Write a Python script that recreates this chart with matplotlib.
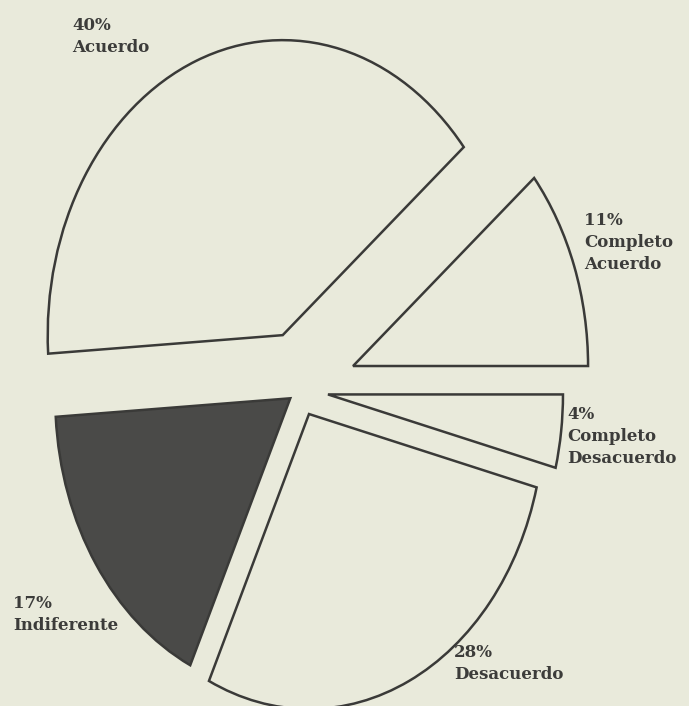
import matplotlib
matplotlib.use('Agg')
import matplotlib.pyplot as plt

# encuesta: grado de acuerdo
categorias = ['Completo\nAcuerdo', 'Acuerdo', 'Indiferente', 'Desacuerdo', 'Completo\nDesacuerdo']
porcentajes = [11, 40, 17, 28, 4]
separacion = [0.24, 0.20, 0.05, 0.09, 0.12]
rellenos = ['#e9eadb', '#e9eadb', '#4a4a48', '#e9eadb', '#e9eadb']

W, H = 689, 706
fondo = '#e9eadb'
borde = '#3a3a38'

# centro y radios del pastel en pixeles (pastel algo ovalado)
cx, cy = 300, 390
rx, ry = 235, 295

fig = plt.figure(figsize=(W / 100, H / 100), dpi=100, facecolor=fondo)
ax = fig.add_axes([0, 0, 1, 1])
ax.set_facecolor(fondo)

ax.pie(porcentajes, explode=separacion, colors=rellenos, startangle=0,
       counterclock=True, radius=1,
       wedgeprops=dict(edgecolor=borde, linewidth=1.8, joinstyle='miter'))

ax.set_aspect('auto')
ax.set_xlim(-cx / rx, (W - cx) / rx)
ax.set_ylim(-(H - cy) / ry, cy / ry)
ax.axis('off')

# posicion de cada rotulo (esquina sup. izq., en pixeles)
pos_rotulos = [(584, 212), (72, 17), (13, 595), (454, 644), (567, 406)]

for cat, pct, (px, py) in zip(categorias, porcentajes, pos_rotulos):
    fig.text(px / W, 1 - py / H, f'{pct}%\n{cat}', ha='left', va='top',
             family='DejaVu Serif', fontsize=12, fontweight='bold',
             color='#3c3c3a', linespacing=1.4)

fig.savefig('out.png', dpi=100, facecolor=fondo)
